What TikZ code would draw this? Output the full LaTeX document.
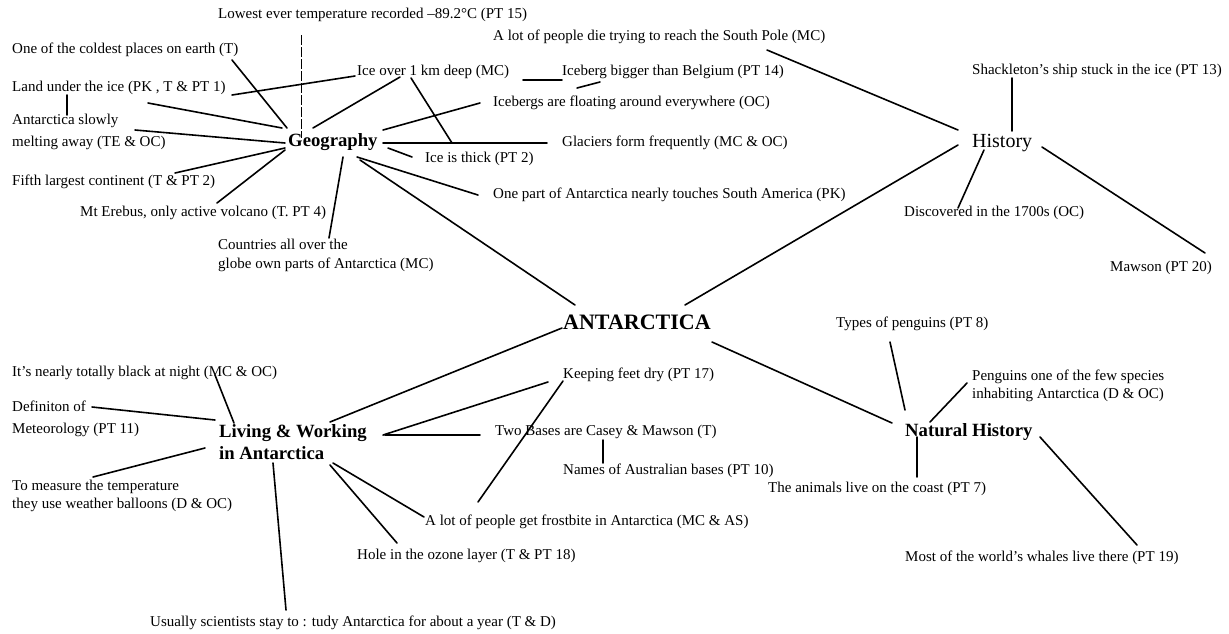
\documentclass[tikz,border=0pt]{standalone}
\usepackage{fontspec}
\setmainfont{Liberation Serif}
\begin{document}
\begin{tikzpicture}[x=1pt,y=-1pt,
  lbl/.style={anchor=west,inner sep=0pt,font=\fontsize{15}{17}\selectfont,align=left},
  lblwide/.style={lbl,font=\fontsize{15}{22}\selectfont},
  hub/.style={anchor=west,inner sep=0pt,font=\fontsize{18.7}{22}\selectfont\bfseries,align=left},
  link/.style={line width=1.6pt,line cap=round},
  faint/.style={line width=1pt,dash pattern=on 10pt off 2pt}]
\useasboundingbox (0,0) rectangle (1229,633);

% ---------- hubs ----------
\node[hub,font=\fontsize{22}{24}\selectfont\bfseries] (ant) at (563,322) {ANTARCTICA};
\node[hub] (geo) at (288,142) {Geography};
\node[hub,font=\fontsize{20}{22}\selectfont] (his) at (972,143) {History};
\node[hub] (liv) at (219,442) {Living \& Working\\in Antarctica};
\node[hub] (nat) at (905,432) {Natural History};

% ---------- geography labels ----------
\node[lbl] (low) at (218,15) {Lowest ever temperature recorded –89.2°C (PT 15)};
\node[lbl] (cold) at (12,50) {One of the coldest places on earth (T)};
\node[lbl] (land) at (12,88) {Land under the ice (PK , T \& PT 1)};
\node[lblwide] (melt) at (12,132) {Antarctica slowly\\melting away (TE \& OC)};
\node[lbl] (fifth) at (12,182) {Fifth largest continent (T \& PT 2)};
\node[lbl] (ereb) at (80,213) {Mt Erebus, only active volcano (T. PT 4)};
\node[lbl,font=\fontsize{15}{19}\selectfont] (ctry) at (218,255.5) {Countries all over the\\globe own parts of Antarctica (MC)};
\node[lbl] (km) at (357,72) {Ice over 1 km deep (MC)};
\node[lbl] (belg) at (562,72) {Iceberg bigger than Belgium (PT 14)};
\node[lbl] (float) at (493,103) {Icebergs are floating around everywhere (OC)};
\node[lbl] (glac) at (562,143) {Glaciers form frequently (MC \& OC)};
\node[lbl] (thick) at (425,159) {Ice is thick (PT 2)};
\node[lbl] (part) at (493,195) {One part of Antarctica nearly touches South America (PK)};

% ---------- history labels ----------
\node[lbl] (die) at (493,37) {A lot of people die trying to reach the South Pole (MC)};
\node[lbl] (shack) at (972,71) {Shackleton's ship stuck in the ice (PT 13)};
\node[lbl] (disc) at (904,213) {Discovered in the 1700s (OC)};
\node[lbl] (maw) at (1110,268) {Mawson (PT 20)};

% ---------- natural history labels ----------
\node[lbl] (types) at (836,324) {Types of penguins (PT 8)};
\node[lbl,font=\fontsize{15}{18}\selectfont] (peng) at (972,386) {Penguins one of the few species\\inhabiting Antarctica (D \& OC)};
\node[lbl] (coast) at (768,489) {The animals live on the coast (PT 7)};
\node[lbl] (whale) at (905,558) {Most of the world's whales live there (PT 19)};

% ---------- living & working labels ----------
\node[lbl] (black) at (12,373) {It's nearly totally black at night (MC \& OC)};
\node[lblwide] (meteo) at (12,419) {Definiton of\\Meteorology (PT 11)};
\node[lbl,font=\fontsize{15}{18}\selectfont] (ball) at (12,496) {To measure the temperature\\they use weather balloons (D \& OC)};
\node[lbl] (year) at (150,623) {Usually scientists stay to : tudy Antarctica for about a year (T \& D)};
\node[lbl] (ozone) at (357,556) {Hole in the ozone layer (T \& PT 18)};
\node[lbl] (frost) at (425,522) {A lot of people get frostbite in Antarctica (MC \& AS)};
\node[lbl] (feet) at (563,375) {Keeping feet dry (PT 17)};
\node[lbl] (bases) at (495,432) {Two Bases are Casey \& Mawson (T)};
\node[lbl] (names) at (563,471) {Names of Australian bases (PT 10)};

% ---------- connector end points ----------
\path
  (232,60) coordinate (g1a)   (287,128) coordinate (g1b)
  (232,95) coordinate (g2a)   (355,76)  coordinate (g2b)
  (67,95)  coordinate (g3a)   (67,115)  coordinate (g3b)
  (148,103) coordinate (g4a)  (282,128) coordinate (g4b)
  (135,130) coordinate (g5a)  (285,143) coordinate (g5b)
  (175,173) coordinate (g6a)  (285,148) coordinate (g6b)
  (217,203) coordinate (g7a)  (285,150) coordinate (g7b)
  (343,157) coordinate (g8a)  (329,238) coordinate (g8b)
  (357,157) coordinate (g9a)  (478,195) coordinate (g9b)
  (360,160) coordinate (g10a) (575,305) coordinate (g10b)
  (388,148) coordinate (g11a) (412,157) coordinate (g11b)
  (383,143) coordinate (g12a) (547,143) coordinate (g12b)
  (411,78)  coordinate (g13a) (452,143) coordinate (g13b)
  (313,128) coordinate (g14a) (400,77)  coordinate (g14b)
  (383,130) coordinate (g15a) (480,103) coordinate (g15b)
  (523,80)  coordinate (g16a) (562,80)  coordinate (g16b)
  (577,88)  coordinate (g17a) (600,82)  coordinate (g17b)
  (301,35)  coordinate (g18a) (301,138) coordinate (g18b)
  (767,50)  coordinate (h1a)  (958,130) coordinate (h1b)
  (1012,78) coordinate (h2a)  (1012,131) coordinate (h2b)
  (958,145) coordinate (h3a)  (685,305) coordinate (h3b)
  (984,150) coordinate (h4a)  (958,208) coordinate (h4b)
  (1042,147) coordinate (h5a) (1205,253) coordinate (h5b)
  (215,375) coordinate (l1a)  (234,423) coordinate (l1b)
  (92,407)  coordinate (l2a)  (215,420) coordinate (l2b)
  (93,477)  coordinate (l3a)  (205,448) coordinate (l3b)
  (273,463) coordinate (l4a)  (286,610) coordinate (l4b)
  (330,465) coordinate (l5a)  (397,543) coordinate (l5b)
  (333,463) coordinate (l6a)  (424,517) coordinate (l6b)
  (563,381) coordinate (l7a)  (478,502) coordinate (l7b)
  (383,435) coordinate (l8a)  (548,382) coordinate (l8b)
  (385,435) coordinate (l9a)  (480,435) coordinate (l9b)
  (330,422) coordinate (l10a) (562,328) coordinate (l10b)
  (603,440) coordinate (l11a) (603,463) coordinate (l11b)
  (712,342) coordinate (n1a)  (892,423) coordinate (n1b)
  (890,342) coordinate (n2a)  (905,410) coordinate (n2b)
  (967,383) coordinate (n3a)  (930,422) coordinate (n3b)
  (917,437) coordinate (n4a)  (917,477) coordinate (n4b)
  (1040,437) coordinate (n5a) (1137,545) coordinate (n5b);

% ---------- connectors ----------
\foreach \c in {g1,g2,g3,g4,g5,g6,g7,g8,g9,g10,g11,g12,g13,g14,g15,g16,g17,
                h1,h2,h3,h4,h5,l1,l2,l3,l4,l5,l6,l7,l8,l9,l10,l11,n1,n2,n3,n4,n5}
  \draw[link] (\c a) -- (\c b);
\draw[faint] (g18a) -- (g18b);
\end{tikzpicture}
\end{document}
